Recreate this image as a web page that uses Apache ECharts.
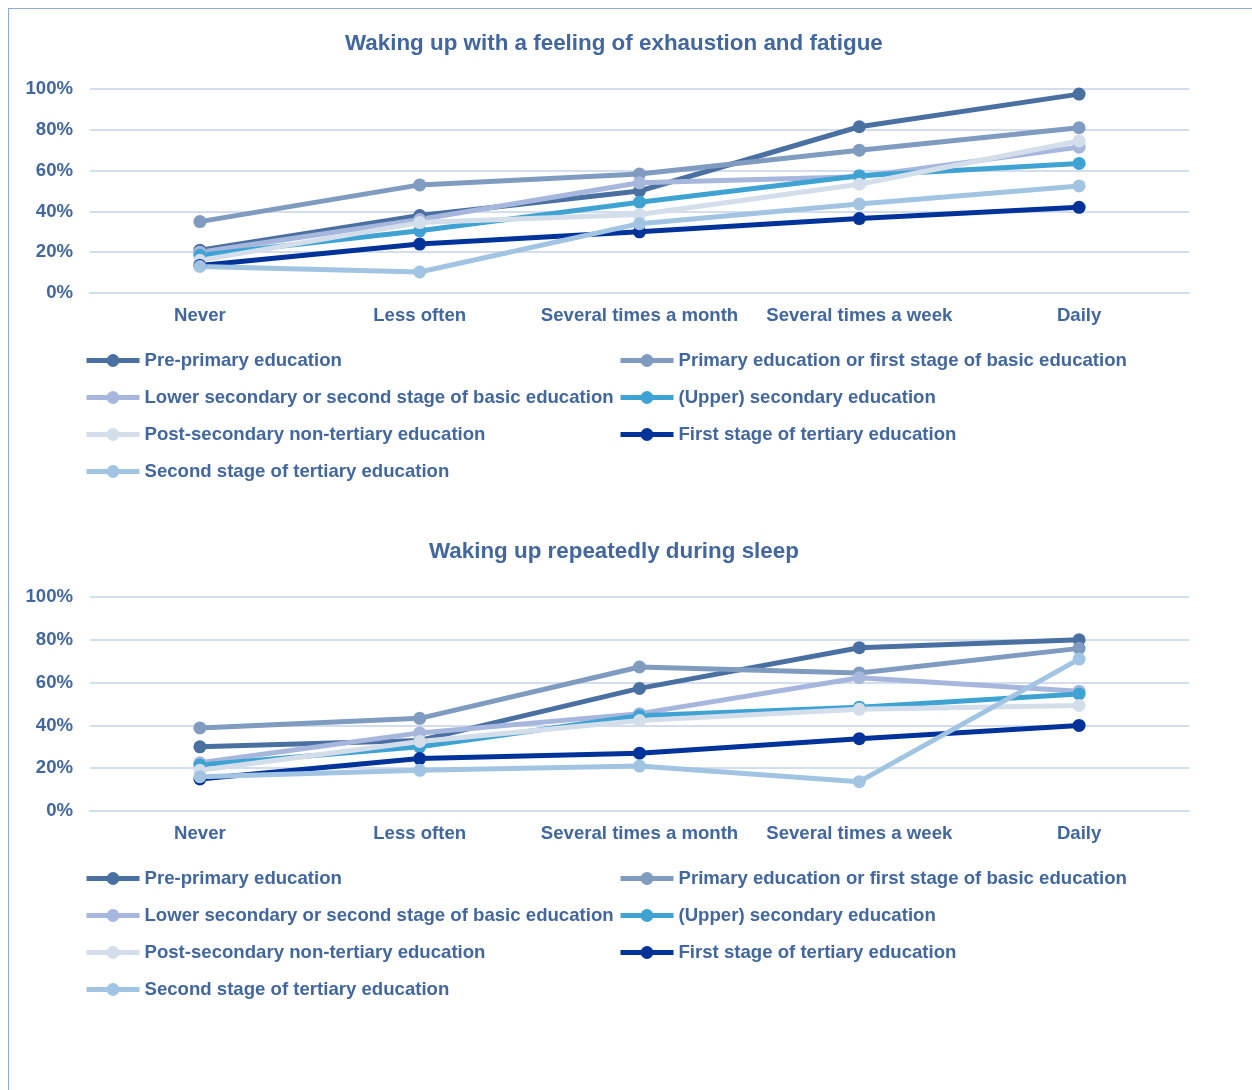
<!DOCTYPE html>
<html>
<head>
<meta charset="utf-8">
<script src="https://cdn.jsdelivr.net/npm/echarts@6/dist/echarts.min.js"></script>
<style>
html,body{margin:0;padding:0;background:#fff;}
#frame{position:absolute;left:8px;top:8px;width:1300px;height:1200px;border-left:1.5px solid #8eaadb;border-top:1.5px solid #8eaadb;}
#chart{position:absolute;left:0;top:0;width:1252px;height:1090px;}
</style>
</head>
<body>
<div id="frame"></div>
<div id="chart"></div>
<script>
const categories = ["Never", "Less often", "Several times a month", "Several times a week", "Daily"];
const seriesNames = [
  "Pre-primary education",
  "Primary education or first stage of basic education",
  "Lower secondary or second stage of basic education",
  "(Upper) secondary education",
  "Post-secondary non-tertiary education",
  "First stage of tertiary education",
  "Second stage of tertiary education"
];
const yTicks = [0, 20, 40, 60, 80, 100];
const titleTop = "Waking up with a feeling of exhaustion and fatigue";
const titleBottom = "Waking up repeatedly during sleep";

// Chart 1: Waking up with a feeling of exhaustion and fatigue (%)
const exhPrePrimary   = [21, 38, 50, 81.5, 97.5];
const exhPrimary      = [35, 53, 58.3, 70, 81];
const exhLowerSec     = [20, 36, 54, 57, 71.5];
const exhUpperSec     = [18.5, 30.5, 44.5, 57.5, 63.5];
const exhPostSec      = [16, 34.5, 38.5, 53.3, 74.5];
const exhTertiary1    = [13.5, 24, 30, 36.5, 42];
const exhTertiary2    = [13, 10.3, 34, 43.6, 52.5];

// Chart 2: Waking up repeatedly during sleep (%)
const slpPrePrimary   = [30, 33, 57.3, 76.3, 80];
const slpPrimary      = [38.8, 43.3, 67.3, 64.5, 76];
const slpLowerSec     = [22.5, 36.5, 45.5, 62.3, 56];
const slpUpperSec     = [21.5, 30, 44.5, 48.5, 54.7];
const slpPostSec      = [19, 32.5, 42.3, 47.5, 49.3];
const slpTertiary1    = [15, 24.5, 27, 33.8, 40];
const slpTertiary2    = [16, 19, 21, 13.7, 71];

const colors = ["#4a6fa1", "#7f9bbf", "#a7b6dc", "#3ea3d3", "#d3deea", "#003399", "#a2c4e3"];
const txt = "#41679e";
const gridColor = "#d3dded";
const font = "'Liberation Sans', Arial, sans-serif";
const fs = 18.6;

const dataTop = [exhPrePrimary, exhPrimary, exhLowerSec, exhUpperSec, exhPostSec, exhTertiary1, exhTertiary2];
const dataBot = [slpPrePrimary, slpPrimary, slpLowerSec, slpUpperSec, slpPostSec, slpTertiary1, slpTertiary2];

function makeAxes(gi) {
  return {
    x: {
      type: "category", gridIndex: gi, data: categories, boundaryGap: true,
      axisLine: {show: true, lineStyle: {color: gridColor, width: 2}},
      axisTick: {show: false},
      axisLabel: {color: txt, fontSize: fs, fontWeight: "bold", fontFamily: font, margin: 13, interval: 0}
    },
    y: {
      type: "value", gridIndex: gi, min: 0, max: 100, interval: 20,
      axisLine: {show: false}, axisTick: {show: false},
      splitLine: {lineStyle: {color: gridColor, width: 2}},
      axisLabel: {color: txt, fontSize: fs, fontWeight: "bold", fontFamily: font, margin: 17,
        formatter: v => yTicks.includes(v) ? v + "%" : ""}
    }
  };
}
const a0 = makeAxes(0), a1 = makeAxes(1);

function makeSeries(datasets, gi) {
  return datasets.map((d, i) => ({
    name: seriesNames[i], type: "line", xAxisIndex: gi, yAxisIndex: gi,
    data: d, symbol: "circle", symbolSize: 13, showAllSymbol: true,
    lineStyle: {width: 5, color: colors[i]},
    itemStyle: {color: colors[i]},
    emphasis: {disabled: true}, animation: false
  }));
}

function makeLegends(top) {
  const common = {
    orient: "vertical", itemWidth: 53, itemHeight: 16, itemGap: 18, padding: 0,
    lineStyle: {width: 5},
    textStyle: {color: txt, fontSize: fs, fontWeight: "bold", fontFamily: font, lineHeight: 18.6},
    selectedMode: false
  };
  return [
    Object.assign({left: 84, top: top, data: [seriesNames[0], seriesNames[2], seriesNames[4], seriesNames[6]]}, common),
    Object.assign({left: 618, top: top, data: [seriesNames[1], seriesNames[3], seriesNames[5]]}, common)
  ];
}

const chart = echarts.init(document.getElementById("chart"), null, {renderer: "canvas"});
chart.setOption({
  backgroundColor: "transparent",
  color: colors,
  animation: false,
  title: [
    {text: titleTop, left: 340, top: 28, textStyle: {color: txt, fontSize: 22.4, fontWeight: "bold", fontFamily: font}},
    {text: titleBottom, left: 424, top: 536, textStyle: {color: txt, fontSize: 22.4, fontWeight: "bold", fontFamily: font}}
  ],
  grid: [
    {left: 90, right: 63, top: 89, height: 204},
    {left: 90, right: 63, top: 597, height: 214}
  ],
  xAxis: [a0.x, a1.x],
  yAxis: [a0.y, a1.y],
  legend: makeLegends(351).concat(makeLegends(869)),
  series: makeSeries(dataTop, 0).concat(makeSeries(dataBot, 1))
});
</script>
</body>
</html>
